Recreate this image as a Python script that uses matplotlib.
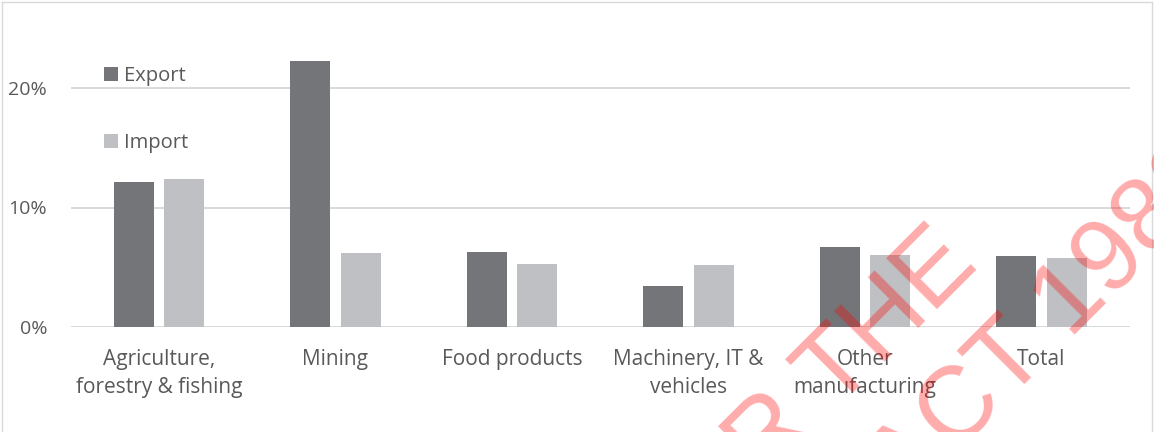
import matplotlib.pyplot as plt
import numpy as np
from matplotlib.lines import Line2D
from matplotlib.patches import Patch

plt.rcParams["font.family"] = ["Open Sans", "DejaVu Sans"]

categories = [
    "Agriculture,\nforestry & fishing",
    "Mining",
    "Food products",
    "Machinery, IT &\nvehicles",
    "Other\nmanufacturing",
    "Total",
]
export_share = [0.121, 0.223, 0.063, 0.034, 0.067, 0.059]
import_share = [0.124, 0.062, 0.053, 0.052, 0.060, 0.058]
y_ticks = [0.0, 0.1, 0.2]
y_tick_labels = ["0%", "10%", "20%"]

EXPORT_COLOR = "#747578"
IMPORT_COLOR = "#bfc0c3"
GRID_COLOR = "#d9d9d9"
TEXT_COLOR = "#595959"

W, H = 1154, 432
fig = plt.figure(figsize=(W / 100, H / 100), dpi=100)
ax = fig.add_axes([70.75 / W, 1 - 327 / H, 1059 / W, (327 - 28.25) / H])

x = np.arange(len(categories))
width = 0.227
ax.bar(x - 0.143, export_share, width, color=EXPORT_COLOR, zorder=3)
ax.bar(x + 0.143, import_share, width, color=IMPORT_COLOR, zorder=3)

ax.set_xlim(-0.5, len(categories) - 0.5)
ax.set_ylim(0, 0.25)
ax.set_yticks(y_ticks)
ax.set_yticklabels(y_tick_labels, fontsize=14)
ax.set_xticks(x)
ax.set_xticklabels(categories, linespacing=1.45, fontsize=15)
ax.tick_params(axis="both", length=0, labelcolor=TEXT_COLOR)
ax.tick_params(axis="y", pad=17)
ax.tick_params(axis="x", pad=16)
ax.grid(axis="y", color=GRID_COLOR, linewidth=1.4, zorder=0)
for side in ax.spines.values():
    side.set_visible(False)

handles = [
    Patch(facecolor=EXPORT_COLOR, label="Export"),
    Patch(facecolor=IMPORT_COLOR, label="Import"),
]
ax.legend(
    handles=handles,
    loc="upper left",
    bbox_to_anchor=(104 / W, 1 - 66 / H),
    bbox_transform=fig.transFigure,
    frameon=False,
    fontsize=14.5,
    labelcolor=TEXT_COLOR,
    handlelength=0.7,
    handleheight=0.7,
    handletextpad=0.3,
    labelspacing=2.35,
    borderpad=0,
    borderaxespad=0,
)

# chart area border
for xs, ys in [((1.5, 1.5), (0, H - 1.5)), ((1.5, W - 2), (H - 1.5, H - 1.5)),
               ((W - 2, W - 2), (H - 1.5, 0))]:
    fig.add_artist(Line2D(np.array(xs) / W, np.array(ys) / H,
                          transform=fig.transFigure, color=GRID_COLOR, lw=1))

# release stamp across the chart
stamp = dict(rotation=45, rotation_mode="anchor", ha="right", va="baseline",
             color="red", alpha=0.33, fontsize=74, family="Liberation Sans",
             transform=fig.transFigure, zorder=10)
fig.text(980 / W, 1 - 266 / H, "RELEASED UNDER THE", **stamp)
fig.text(1232 / W, 1 - 178 / H, "FREEDOM OF INFORMATION ACT 1982", **stamp)

fig.savefig("out.png", dpi=100)
